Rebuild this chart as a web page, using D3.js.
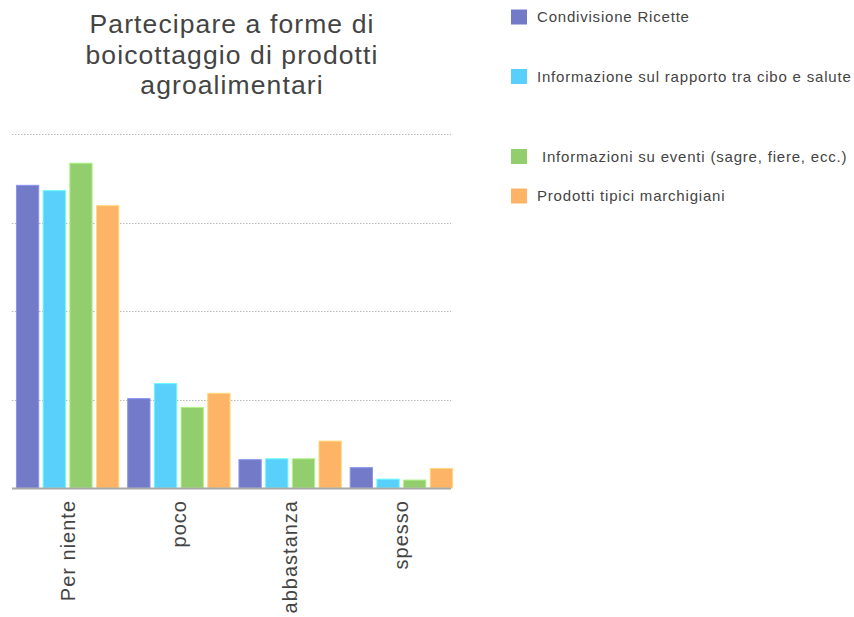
<!DOCTYPE html>
<html>
<head>
<meta charset="utf-8">
<script src="https://cdn.jsdelivr.net/npm/d3@7"></script>
<style>
  html, body { margin: 0; padding: 0; background: #fff; }
  svg { display: block; font-family: "Liberation Sans", Arial, Helvetica, sans-serif; }
</style>
</head>
<body>
<svg id="chart" width="854" height="617"></svg>
<script>
// Frequency categories on the x axis
const categories = ["Per niente", "poco", "abbastanza", "spesso"];

// Series names (legend) and colours
const seriesNames = [
  "Condivisione Ricette",
  "Informazione sul rapporto tra cibo e salute",
  " Informazioni su eventi (sagre, fiere, ecc.)",
  "Prodotti tipici marchigiani"
];
const seriesColors = ["#737bc9", "#58d0fb", "#92cd6e", "#fdb466"];

// Values per series, one per category
const condivisioneRicette = [34.2, 10.1, 3.2, 2.3];
const rapportoCiboSalute  = [33.6, 11.8, 3.3, 1.0];
const eventiSagreFiere    = [36.7, 9.1, 3.3, 0.9];
const prodottiTipici      = [31.9, 10.7, 5.3, 2.2];
const seriesValues = [condivisioneRicette, rapportoCiboSalute, eventiSagreFiere, prodottiTipici];

// Gridline values
const gridTicks = [10, 20, 30, 40];

const titleLines = ["Partecipare a forme di", "boicottaggio di prodotti", "agroalimentari"];

const svg = d3.select("#chart");

const plot = { left: 12, right: 451, top: 134, bottom: 488 };

const y = d3.scaleLinear().domain([0, 40]).range([plot.bottom, plot.top]);

const x0 = d3.scaleBand()
  .domain(categories)
  .range([plot.left, 457])
  .paddingInner(0.08)
  .paddingOuter(0.04);

const x1 = d3.scaleBand()
  .domain(d3.range(seriesNames.length))
  .range([0, x0.bandwidth()])
  .paddingInner(0.165)
  .paddingOuter(0);

// Title
svg.append("g")
  .selectAll("text")
  .data(titleLines)
  .join("text")
  .attr("x", 232)
  .attr("y", (d, i) => 33 + i * 30.5)
  .attr("text-anchor", "middle")
  .attr("font-size", 26.5)
  .attr("letter-spacing", 1.1)
  .attr("fill", "#444")
  .text(d => d);

// Dotted gridlines
svg.append("g")
  .selectAll("line")
  .data(gridTicks)
  .join("line")
  .attr("x1", plot.left)
  .attr("x2", plot.right)
  .attr("y1", d => Math.round(y(d)) + 0.5)
  .attr("y2", d => Math.round(y(d)) + 0.5)
  .attr("stroke", "#b8b8b8")
  .attr("stroke-width", 1)
  .attr("stroke-dasharray", "1.5,1.5");

// Bars
const rows = categories.map((c, ci) => ({
  cat: c,
  vals: seriesValues.map((s, si) => ({ si, v: s[ci] }))
}));

svg.append("g")
  .selectAll("g")
  .data(rows)
  .join("g")
  .attr("transform", d => `translate(${x0(d.cat)},0)`)
  .selectAll("rect")
  .data(d => d.vals)
  .join("rect")
  .attr("x", d => x1(d.si))
  .attr("y", d => y(d.v))
  .attr("width", x1.bandwidth())
  .attr("height", d => y(0) - y(d.v))
  .attr("fill", d => seriesColors[d.si])
  .attr("stroke", d => d3.color(seriesColors[d.si]).brighter(0.5))
  .attr("stroke-width", 1);

// Baseline
svg.append("line")
  .attr("x1", plot.left)
  .attr("x2", plot.right)
  .attr("y1", plot.bottom + 0.5)
  .attr("y2", plot.bottom + 0.5)
  .attr("stroke", "#a8a8a8")
  .attr("stroke-width", 2);

// Rotated category labels
const xAxis = d3.axisBottom(x0).tickSize(0).tickPadding(0);
const axisG = svg.append("g")
  .attr("transform", `translate(0,${plot.bottom})`)
  .call(xAxis);
axisG.select(".domain").remove();
axisG.selectAll("text")
  .attr("transform", "rotate(-90)")
  .attr("x", -12)
  .attr("y", 0)
  .attr("dy", "0.35em")
  .attr("text-anchor", "end")
  .attr("font-size", 20)
  .attr("letter-spacing", 1)
  .attr("font-family", "\"Liberation Sans\", Arial, sans-serif")
  .attr("fill", "#444");

// Legend
const legendY = [17, 76.5, 156.5, 196];
const legend = svg.append("g")
  .selectAll("g")
  .data(seriesNames)
  .join("g")
  .attr("transform", (d, i) => `translate(511,${legendY[i]})`);

legend.append("rect")
  .attr("x", 0)
  .attr("y", -7.5)
  .attr("width", 16)
  .attr("height", 15)
  .attr("fill", (d, i) => seriesColors[i]);

legend.append("text")
  .attr("x", 26)
  .attr("y", 0)
  .attr("dy", "0.35em")
  .attr("font-size", 15)
  .attr("letter-spacing", 0.8)
  .attr("fill", "#444")
  .attr("xml:space", "preserve")
  .style("white-space", "pre")
  .text(d => d);
</script>
</body>
</html>
